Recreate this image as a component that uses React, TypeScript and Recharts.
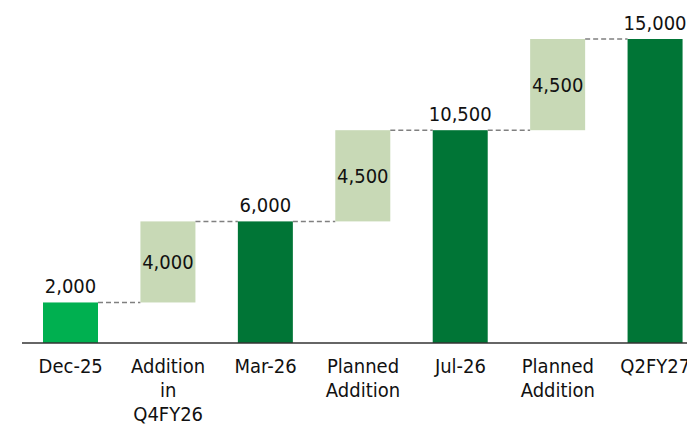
import React from "react";
import { BarChart, Bar, XAxis, YAxis, LabelList } from "recharts";

const categories = ["Dec-25", "Addition\nin\nQ4FY26", "Mar-26", "Planned\nAddition", "Jul-26", "Planned\nAddition", "Q2FY27"];
const bases = [0, 2000, 0, 6000, 0, 10500, 0];
const values = [2000, 4000, 6000, 4500, 10500, 4500, 15000];
const kinds = ["start", "add", "total", "add", "total", "add", "total"];

const data = categories.map((name, i) => ({ name, base: bases[i], value: values[i], kind: kinds[i] }));

const COLORS: Record<string, string> = { start: "#00b050", add: "#c8d9b6", total: "#007536" };
const FONT = "'DejaVu Sans Condensed', 'DejaVu Sans', Verdana, sans-serif";

const W = 708;
const H = 425;
const M = { top: 39, right: 4, left: 22, bottom: 0 };
const STEP = (W - M.left - M.right) / categories.length;

const fmt = (v: number) => v.toLocaleString("en-US");

const WaterfallBar = (props: any) => {
  const { x, y, width, height, index } = props;
  const kind = data[index].kind;
  return (
    <g>
      <rect x={x} y={y} width={width} height={height} fill={COLORS[kind]} />
      {index < data.length - 1 && (
        <line x1={x + width} x2={x + STEP} y1={y} y2={y} stroke="#808080" strokeWidth={1.5} strokeDasharray="5 3" />
      )}
    </g>
  );
};

const ValueLabel = (props: any) => {
  const { x, y, width, height, index } = props;
  const kind = data[index].kind;
  const cx = x + width / 2;
  const ty = kind === "add" ? y + height / 2 + 7 : y - 9;
  return (
    <text x={cx} y={ty} textAnchor="middle" fontFamily={FONT} fontStretch="condensed" fontSize={20} fill="#111">
      {fmt(data[index].value)}
    </text>
  );
};

const Tick = (props: any) => {
  const { x, y, payload } = props;
  const lines = String(payload.value).split("\n");
  return (
    <text x={x} y={y} textAnchor="middle" fontFamily={FONT} fontStretch="condensed" fontSize={20} fill="#111">
      {lines.map((l, i) => (
        <tspan key={i} x={x} y={y + 22 + i * 24}>{l}</tspan>
      ))}
    </text>
  );
};

export default function App() {
  return (
    <>
      <style>{`html, body { margin: 0; padding: 0; overflow: hidden; }`}</style>
      <div style={{ width: 687, height: H, overflow: "hidden" }}>
        <BarChart width={W} height={H} data={data} margin={M} barSize={55}>
          <XAxis dataKey="name" axisLine={{ stroke: "#333", strokeWidth: 1.5 }} tickLine={false} tick={<Tick />} height={82} interval={0} />
          <YAxis hide domain={[0, 15000]} />
          <Bar dataKey="base" stackId="a" fill="transparent" isAnimationActive={false} />
          <Bar dataKey="value" stackId="a" shape={<WaterfallBar />} isAnimationActive={false}>
            <LabelList dataKey="value" content={<ValueLabel />} />
          </Bar>
        </BarChart>
      </div>
    </>
  );
}
